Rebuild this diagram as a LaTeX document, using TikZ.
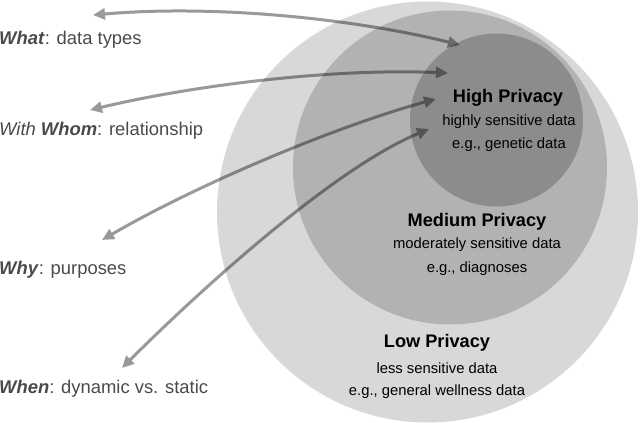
\documentclass[tikz,border=0pt]{standalone}
\usepackage{fontspec}
\setmainfont{Liberation Sans}
\usetikzlibrary{arrows.meta}
\definecolor{lowc}{HTML}{D8D8D8}
\definecolor{medc}{HTML}{B2B2B2}
\definecolor{highc}{HTML}{8C8C8C}
\definecolor{lblc}{HTML}{4A4A4A}
\tikzset{
  zone/.style={circle, inner sep=0pt, draw=none},
  lbl/.style={anchor=west, inner sep=0pt, text=lblc, font=\fontsize{18.4}{21}\selectfont},
  ttl/.style={inner sep=0pt, font=\bfseries\fontsize{18.2}{21}\selectfont},
  sub/.style={inner sep=0pt, font=\fontsize{14.8}{17}\selectfont},
  link/.style={line width=3pt, draw=black, {Triangle[length=12pt,width=11pt]}-{Triangle[length=12pt,width=11pt]}}
}
\begin{document}
\begin{tikzpicture}[x=1pt,y=-1pt]
\useasboundingbox (0,0) rectangle (640,423);
\node[zone, fill=lowc, minimum size=421pt] (low) at (427.5,212) {};
\node[zone, fill=medc, minimum size=314pt] (med) at (450,167.5) {};
\node[zone, fill=highc, minimum size=173pt] (high) at (496.5,120) {};

\node[ttl] (hT) at (508,98) {High Privacy};
\node[sub] (hS1) at (509,122) {highly sensitive data};
\node[sub] (hS2) at (509,145) {e.g., genetic data};

\node[ttl] (mT) at (477,222) {Medium Privacy};
\node[sub] (mS1) at (477,245) {moderately sensitive data};
\node[sub] (mS2) at (477,269) {e.g., diagnoses};

\node[ttl] (lT) at (437,343) {Low Privacy};
\node[sub] (lS1) at (437,368) {less sensitive data};
\node[sub] (lS2) at (437,392) {e.g., general wellness data};

\node[lbl] (what) at (-1,40) {\textbf{\textit{What}}: data types};
\node[lbl] (whom) at (-1,131) {\textit{With} \textbf{\textit{Whom}}: relationship};
\node[lbl] (why) at (-1,270) {\textbf{\textit{Why}}: purposes};
\node[lbl] (when) at (-1,389) {\textbf{\textit{When}}: dynamic vs. static};

\coordinate (a1) at (93,15);  \coordinate (b1) at (460,45);
\coordinate (a2) at (90,110); \coordinate (b2) at (448,73);
\coordinate (a3) at (102,240); \coordinate (b3) at (436,99);
\coordinate (a4) at (122,368); \coordinate (b4) at (429,129);

\begin{scope}[transparency group, opacity=0.4]
\draw[link] (a1) .. controls (220,4) and (360,20) .. (b1);
\draw[link] (a2) .. controls (190,86) and (330,68) .. (b2);
\draw[link] (a3) .. controls (200,183) and (340,125) .. (b3);
\draw[link] (a4) .. controls (190,300) and (330,170) .. (b4);
\end{scope}
\end{tikzpicture}
\end{document}
